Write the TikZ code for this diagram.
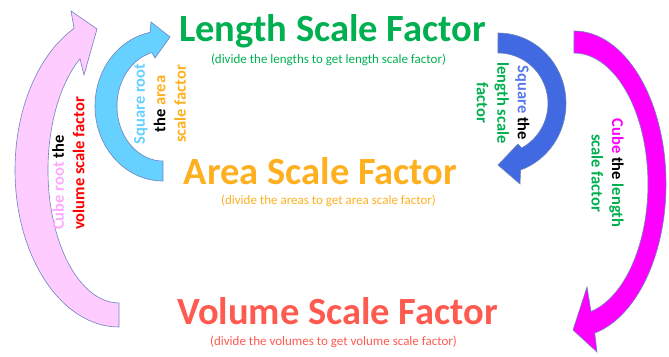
\documentclass[tikz,border=0pt]{standalone}
\usepackage{fontspec}
\setmainfont{Carlito}
\usepackage{tikz}
\definecolor{lsf}{RGB}{0,176,80}
\definecolor{asf}{RGB}{255,176,32}
\definecolor{vsf}{RGB}{255,90,80}
\definecolor{pinkfill}{RGB}{255,204,255}
\definecolor{pinktext}{RGB}{255,170,255}
\definecolor{skyfill}{RGB}{102,208,255}
\definecolor{royal}{RGB}{65,105,225}
\definecolor{royaltext}{RGB}{90,120,235}
\definecolor{cubemag}{RGB}{255,0,255}
\definecolor{rim}{RGB}{110,130,190}

\begin{document}
\begin{tikzpicture}[x=1pt, y=1pt,
	title/.style={font=\fontsize{38.5}{42}\selectfont\bfseries, inner sep=0pt, anchor=base},
	sub/.style={font=\fontsize{13}{15}\selectfont, inner sep=0pt, anchor=base},
	note/.style={font=\fontsize{16.5}{20.5}\selectfont\bfseries, inner sep=0pt, align=center},
	arr/.style={draw=rim, line width=0.6pt}]
			\useasboundingbox (0,0) rectangle (669,356);
			\filldraw[arr, fill=pinkfill] (119,29) arc[start angle=270, end angle=115.6, x radius=104, y radius=157]
				-- (71,345) -- (97,327) -- (84,281) -- (80,297.2)
				arc[start angle=123.3, end angle=270, x radius=71, y radius=133] -- cycle;
			\filldraw[arr, fill=skyfill] (163,175) arc[start angle=270, end angle=101, x radius=68, y radius=75]
				-- (151,334) -- (170,319) -- (155,298) -- (152,303.4)
				arc[start angle=103.8, end angle=270, x radius=46, y radius=55] -- cycle;
			\filldraw[arr, fill=royal] (498,323) arc[start angle=90, end angle=-70.6, x radius=68, y radius=70.5]
				-- (520,172) -- (498,191) -- (518,212) -- (521.6,208)
				arc[start angle=-61.8, end angle=90, x radius=50, y radius=50.5] -- cycle;
			\filldraw[arr, fill=cubemag] (574,325) arc[start angle=90, end angle=-77, x radius=92, y radius=153]
				-- (597,4) -- (573,26) -- (587,69) -- (591,44.5)
				arc[start angle=-76.7, end angle=90, x radius=74, y radius=131] -- cycle;
			\node[title, text=lsf] (len) at (332.5,314) {Length Scale Factor};
			\node[sub, text=lsf] (lensub) at (328.5,292) {(divide the lengths to get length scale factor)};
			\node[title, text=asf] (area) at (320.5,171) {Area Scale Factor};
			\node[sub, text=asf] (areasub) at (328.5,151) {(divide the areas to get area scale factor)};
			\node[title, text=vsf] (vol) at (337.5,31) {Volume Scale Factor};
			\node[sub, text=vsf] (volsub) at (333.5,11) {(divide the volumes to get volume scale factor)};
			\node[note, rotate=90, align=left, anchor=west] (cuberoot) at (68.5,126)
				{\textcolor{pinktext}{Cube root} the\\\textcolor{red}{volume scale factor}};
			\node[note, rotate=90] (sqroot) at (160,252)
				{\textcolor{skyfill}{Square root}\\the \textcolor{asf}{area}\\\textcolor{asf}{scale factor}};
			\node[note, rotate=-90] (square) at (503,253)
				{\textcolor{royaltext}{Square} the\\\textcolor{lsf}{length scale}\\\textcolor{lsf}{factor}};
			\node[note, rotate=-90] (cube) at (607.5,183)
				{\textcolor{cubemag}{Cube} the \textcolor{lsf}{length}\\\textcolor{lsf}{scale factor}};
		\end{tikzpicture}
\end{document}
